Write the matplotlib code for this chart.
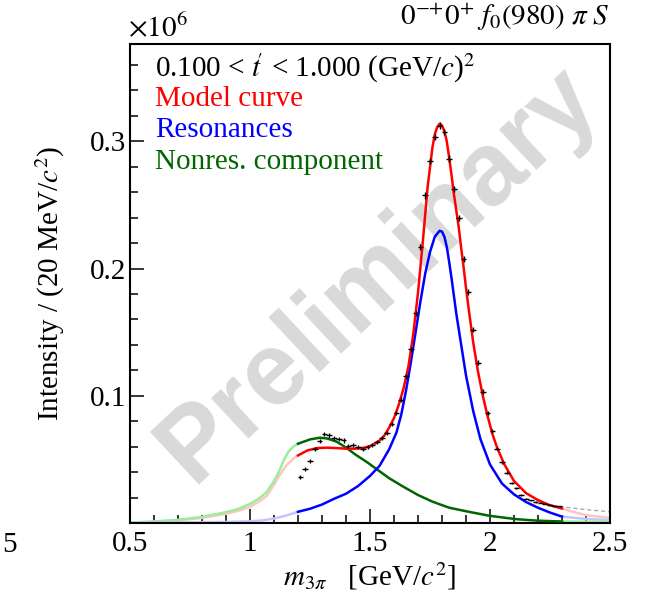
import matplotlib
matplotlib.use("Agg")
import matplotlib.pyplot as plt
import numpy as np

plt.rcParams['font.family'] = ['Liberation Serif', 'DejaVu Serif']
plt.rcParams['mathtext.fontset'] = 'stix'

# data points (bin centres, intensity in units of 1e6)
mass_data = np.round(np.arange(1.21, 2.30, 0.02), 2)
int_data = [0.0359, 0.0422, 0.0487, 0.0584, 0.0644, 0.0701, 0.0688, 0.0670, 0.0660, 0.0649,
            0.0602, 0.0615, 0.0597, 0.0584, 0.0594, 0.0610, 0.0636, 0.0668, 0.0707, 0.0777,
            0.0866, 0.0968, 0.1154, 0.1365, 0.1647, 0.2170, 0.2575, 0.2846, 0.3034, 0.3123,
            0.3074, 0.2864, 0.2627, 0.2397, 0.2078, 0.1817, 0.1519, 0.1258, 0.1033, 0.0864,
            0.0723, 0.0584, 0.0477, 0.0396, 0.0317, 0.0273, 0.0218, 0.0192, 0.0179, 0.0166,
            0.0161, 0.0153, 0.0145, 0.0137, 0.0130]
err_data = [0.0015, 0.0015, 0.0015, 0.0017, 0.0017, 0.0017, 0.0017, 0.0017, 0.0017, 0.0017,
            0.0016, 0.0016, 0.0016, 0.0016, 0.0016, 0.0016, 0.0017, 0.0017, 0.0017, 0.0018,
            0.0018, 0.0019, 0.0020, 0.0021, 0.0022, 0.0024, 0.0025, 0.0026, 0.0026, 0.0026,
            0.0026, 0.0026, 0.0025, 0.0024, 0.0023, 0.0022, 0.0021, 0.0020, 0.0018, 0.0016,
            0.0015, 0.0013, 0.0012, 0.0011, 0.0009, 0.0008, 0.0007, 0.0006, 0.0005, 0.0005,
            0.0005, 0.0005, 0.0005, 0.0005, 0.0005]

# model curve (fit range)
m_model = [1.20, 1.24, 1.28, 1.32, 1.36, 1.40, 1.44, 1.48, 1.51, 1.54, 1.56, 1.58, 1.60, 1.62,
           1.64, 1.66, 1.68, 1.70, 1.72, 1.74, 1.76, 1.77, 1.78, 1.79, 1.80, 1.81, 1.82, 1.83,
           1.84, 1.85, 1.86, 1.87, 1.88, 1.89, 1.90, 1.91, 1.93, 1.95, 1.97, 1.99, 2.01, 2.03,
           2.06, 2.10, 2.15, 2.20, 2.25, 2.30]
i_model = [0.0531, 0.0571, 0.0589, 0.0592, 0.0589, 0.0584, 0.0584, 0.0593, 0.0612, 0.0648, 0.0688,
           0.0750, 0.0825, 0.0930, 0.1060, 0.1230, 0.1480, 0.1810, 0.2210, 0.2640, 0.2950, 0.3055,
           0.3112, 0.3138, 0.3125, 0.3080, 0.3000, 0.2870, 0.2730, 0.2580, 0.2450, 0.2320, 0.2160,
           0.2010, 0.1850, 0.1700, 0.1420, 0.1190, 0.1000, 0.0840, 0.0700, 0.0590, 0.0460, 0.0330,
           0.0235, 0.0180, 0.0139, 0.0114]
m_model_lo = [0.50, 0.60, 0.70, 0.80, 0.90, 0.95, 1.00, 1.04, 1.07, 1.10, 1.12, 1.15, 1.18, 1.20]
i_model_lo = [0.0002, 0.0009, 0.0020, 0.0040, 0.0072, 0.0095, 0.0127, 0.0170, 0.0213, 0.0300,
              0.0365, 0.0450, 0.0505, 0.0531]
m_model_hi = [2.30, 2.35, 2.40, 2.45, 2.50]
i_model_hi = [0.0114, 0.0085, 0.0062, 0.0050, 0.0041]

# resonances
m_res = [1.20, 1.25, 1.30, 1.35, 1.40, 1.45, 1.50, 1.54, 1.58, 1.61, 1.63, 1.65, 1.67, 1.69, 1.71,
         1.73, 1.75, 1.77, 1.79, 1.80, 1.81, 1.82, 1.83, 1.84, 1.85, 1.86, 1.88, 1.90, 1.93, 1.96,
         2.00, 2.05, 2.10, 2.15, 2.20, 2.25, 2.30]
i_res = [0.0088, 0.0112, 0.0145, 0.0190, 0.0230, 0.0290, 0.0370, 0.0450, 0.0580, 0.0710, 0.0850,
         0.1040, 0.1260, 0.1500, 0.1740, 0.1960, 0.2130, 0.2250, 0.2297, 0.2290, 0.2250, 0.2170,
         0.2050, 0.1920, 0.1780, 0.1640, 0.1400, 0.1160, 0.0880, 0.0660, 0.0460, 0.0310, 0.0225,
         0.0165, 0.0120, 0.0082, 0.0050]
m_res_lo = [0.50, 0.70, 0.90, 1.00, 1.05, 1.10, 1.15, 1.20]
i_res_lo = [0.0002, 0.0004, 0.0008, 0.0013, 0.0020, 0.0035, 0.0058, 0.0088]
m_res_hi = [2.30, 2.40, 2.50]
i_res_hi = [0.0050, 0.0032, 0.0022]

# non-resonant component
m_nonres = [1.20, 1.25, 1.29, 1.32, 1.36, 1.40, 1.44, 1.49, 1.53, 1.58, 1.64, 1.70, 1.76, 1.83,
            1.92, 2.00, 2.11, 2.20, 2.30]
i_nonres = [0.0623, 0.0657, 0.0670, 0.0665, 0.0640, 0.0593, 0.0537, 0.0475, 0.0420, 0.0352,
            0.0284, 0.0220, 0.0168, 0.0120, 0.0085, 0.0056, 0.0030, 0.0018, 0.0012]
m_nonres_lo = [0.50, 0.60, 0.70, 0.80, 0.90, 0.95, 1.00, 1.04, 1.07, 1.10, 1.12, 1.14, 1.16, 1.18, 1.20]
i_nonres_lo = [0.0004, 0.0012, 0.0025, 0.0048, 0.0085, 0.0110, 0.0150, 0.0195, 0.0245, 0.0330,
               0.0400, 0.0490, 0.0560, 0.0600, 0.0623]
m_nonres_hi = [2.30, 2.40, 2.50]
i_nonres_hi = [0.0012, 0.0010, 0.0008]

# faded continuation of the data trend
m_grey = [2.29, 2.40, 2.50]
i_grey = [0.0130, 0.0105, 0.0088]

fig = plt.figure(figsize=(6.59, 6.02), dpi=100)
ax = fig.add_axes([130/659, 79/602, 480/659, 479/602])

ax.text(1.535, 0.195, 'Preliminary', family='Liberation Sans', weight='bold', fontsize=74,
        color='#d9d9d9', rotation=43, ha='center', va='center', zorder=0)

lw = 1.8
ax.plot(m_model_lo, i_model_lo, color='#ffc4c4', lw=lw, zorder=2)
ax.plot(m_nonres_lo, i_nonres_lo, color='#99ee99', lw=lw, zorder=2)
ax.plot(m_res_lo, i_res_lo, color='#c4c4ff', lw=lw, zorder=2)
ax.plot(m_grey, i_grey, color='#aaaaaa', lw=1.0, ls=(0, (3, 2)), zorder=2)
ax.plot(m_model_hi, i_model_hi, color='#ffc4c4', lw=lw, zorder=2)
ax.plot(m_res_hi, i_res_hi, color='#c4c4ff', lw=lw, zorder=2)
ax.plot(m_nonres_hi, i_nonres_hi, color='#99ee99', lw=lw, zorder=2)

ax.plot(m_nonres, i_nonres, color='#006600', lw=lw, zorder=3)
ax.plot(m_res, i_res, color='#0000ff', lw=lw, zorder=3)
ax.plot(m_model, i_model, color='#ff0000', lw=lw, zorder=4)

ax.errorbar(mass_data, int_data, xerr=0.012, yerr=err_data, fmt='none',
            ecolor='black', elinewidth=1.0, capsize=0, zorder=5)

ax.set_xlim(0.5, 2.5)
ax.set_ylim(0, 0.3765)
ax.set_xticks([0.5, 1, 1.5, 2, 2.5])
ax.set_xticklabels(['0.5', '1', '1.5', '2', '2.5'])
ax.set_xticks(np.arange(0.6, 2.5, 0.1), minor=True)
ax.set_yticks([0.1, 0.2, 0.3])
ax.set_yticklabels(['0.1', '0.2', '0.3'])
ax.set_yticks(np.arange(0.02, 0.37, 0.02), minor=True)
ax.tick_params(which='both', direction='in', top=False, right=False, labelsize=21, width=1.1)
ax.tick_params(which='major', length=10)
ax.tick_params(which='minor', length=5.5)
ax.tick_params(axis='x', pad=6)
ax.tick_params(axis='y', pad=3)
for s in ax.spines.values():
    s.set_linewidth(1.5)

ax.set_xlabel(r'$m_{3\pi}$   [GeV/$c^2$]', fontsize=21, labelpad=2)
ax.set_ylabel(r'Intensity / (20 MeV/$c^2$)', fontsize=21, labelpad=16)

# legend-like text block
ax.text(155/659, 1 - 68/602, r"0.100 < $t\!'$ < 1.000 (GeV/$c$)$^2$", transform=fig.transFigure,
        fontsize=21, va='center', ha='left')
ax.text(155/659, 1 - 99/602, 'Model curve', color='#ff0000', transform=fig.transFigure,
        fontsize=21, va='center', ha='left')
ax.text(155/659, 1 - 130/602, 'Resonances', color='#0000ff', transform=fig.transFigure,
        fontsize=21, va='center', ha='left')
ax.text(155/659, 1 - 162/602, 'Nonres. component', color='#006600', transform=fig.transFigure,
        fontsize=21, va='center', ha='left')

fig.text(128/659, 1 - 28/602, r'$\times10^{6}$', fontsize=21, va='center', ha='left')
fig.text(610/659, 1 - 18/602, r'$0^{{-}{+}}0^{+}\ f_0(980)\ \pi\ S$', fontsize=21, va='center', ha='right')
fig.text(10/659, 1 - 545/602, '5', fontsize=21, va='center', ha='center')

fig.savefig('out.png', dpi=100)
